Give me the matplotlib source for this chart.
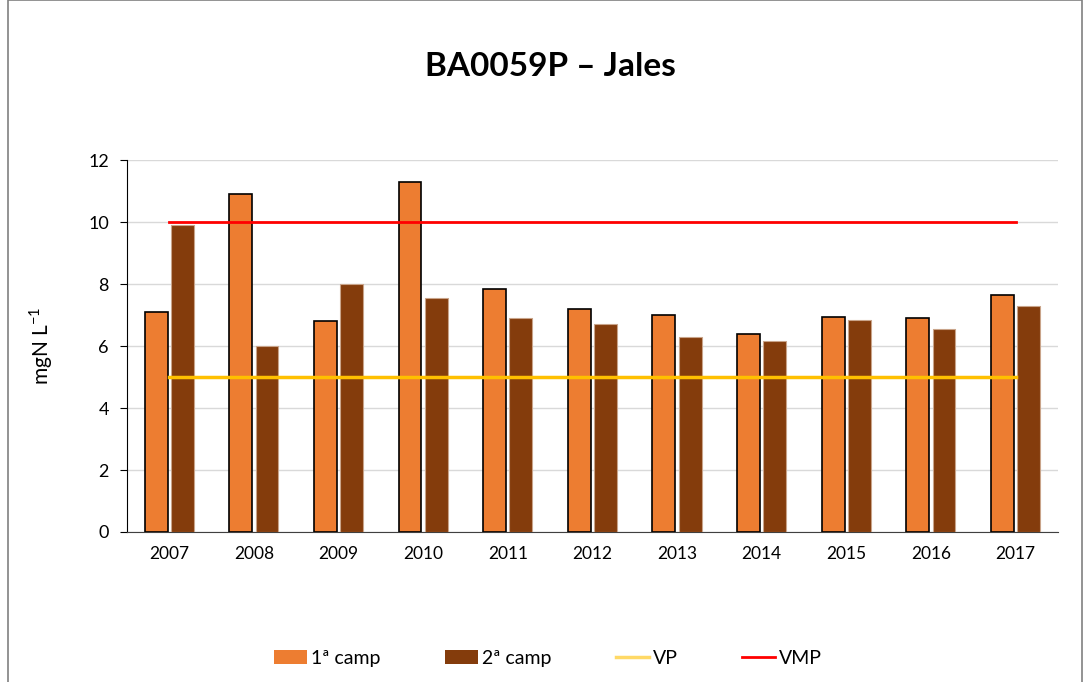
import numpy as np
import matplotlib
matplotlib.use("Agg")
import matplotlib.pyplot as plt
from matplotlib.patches import Rectangle
from matplotlib.lines import Line2D
from matplotlib.patches import Patch

plt.rcParams['font.family'] = ['Lato', 'DejaVu Sans']
plt.rcParams['mathtext.fontset'] = 'custom'
plt.rcParams['mathtext.rm'] = 'Lato'

years = ['2007', '2008', '2009', '2010', '2011', '2012', '2013', '2014', '2015', '2016', '2017']
camp1 = [7.1, 10.9, 6.8, 11.3, 7.85, 7.2, 7.0, 6.4, 6.95, 6.9, 7.65]
camp2 = [9.9, 6.0, 8.0, 7.55, 6.92, 6.7, 6.3, 6.15, 6.85, 6.55, 7.3]
vp = 5
vmp = 10

fig = plt.figure(figsize=(10.85, 6.82), dpi=100)
ax = fig.add_axes([0.117, 0.22, 0.858, 0.545])

x = np.arange(len(years))
w = 0.27
ax.bar(x - 0.155, camp1, w, color='#ED7D31', edgecolor='black', linewidth=1.2, zorder=3)
ax.bar(x + 0.155, camp2, w, color='#843C0C', edgecolor='#C9A48A', linewidth=0.8, zorder=3)
ax.plot([x[0], x[-1]], [vp, vp], color='#FFC000', linewidth=2.5, zorder=4)
ax.plot([x[0], x[-1]], [vmp, vmp], color='#FF0000', linewidth=2, zorder=4)

ax.set_xlim(-0.5, len(years) - 0.5)
ax.set_ylim(0, 12)
ax.set_yticks(range(0, 13, 2))
ax.set_xticks(x)
ax.set_xticklabels(years)
ax.tick_params(axis='x', length=0, labelsize=12.5, pad=10)
ax.tick_params(axis='y', length=5, labelsize=13, pad=8)
ax.yaxis.grid(True, color='#D9D9D9', linewidth=1, zorder=0)
ax.set_axisbelow(True)
for s in ['top', 'right']:
    ax.spines[s].set_visible(False)
ax.spines['left'].set_color('black')
ax.spines['bottom'].set_color('#404040')
ax.set_ylabel('mgN L$^{-1}$', fontsize=15, labelpad=24)

fig.text(0.507, 0.903, 'BA0059P – Jales', ha='center', va='center', fontsize=24, fontweight='bold')

handles = [Patch(facecolor='#ED7D31'), Patch(facecolor='#843C0C'),
           Line2D([], [], color='#FFD966', linewidth=2.5), Line2D([], [], color='#FF0000', linewidth=2)]
labels = ['1ª camp', '2ª camp', 'VP', 'VMP']
fig.legend(handles, labels, loc='center', bbox_to_anchor=(0.505, 0.035), ncol=4, frameon=False,
           fontsize=14, handlelength=1.7, handletextpad=0.2, columnspacing=3.3)

fig.patches.append(Rectangle((0.007, -0.01), 0.99, 1.01, transform=fig.transFigure,
                             fill=False, edgecolor='#808080', linewidth=1.2))

fig.savefig('out.png', dpi=100)
